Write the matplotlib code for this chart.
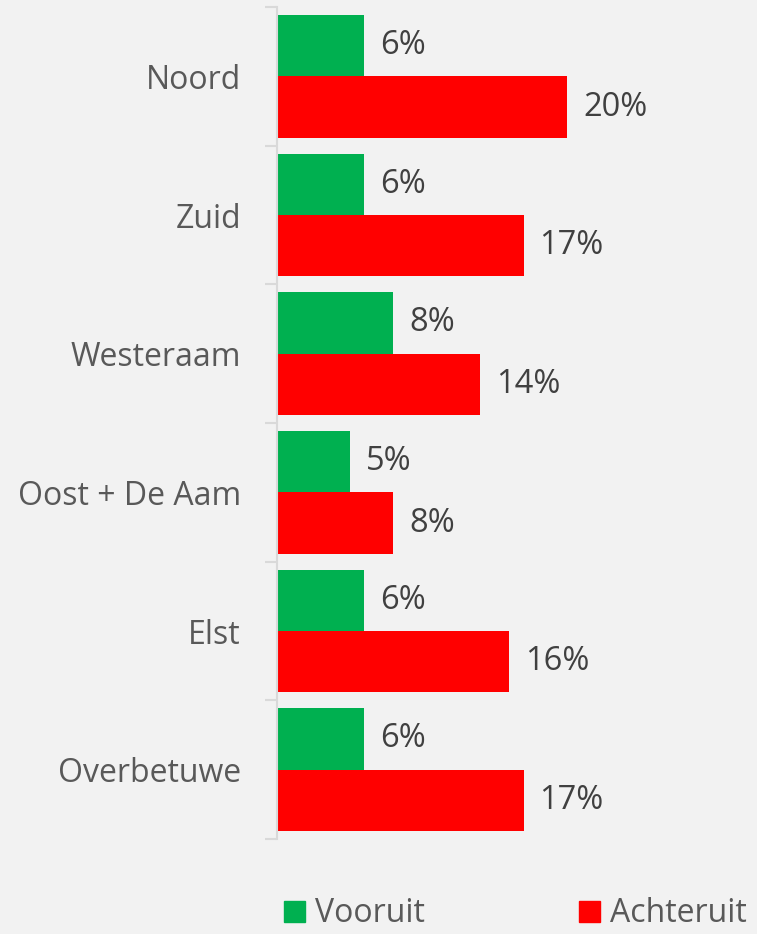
import numpy as np
import matplotlib.pyplot as plt
from matplotlib.patches import Patch

categories = ["Noord", "Zuid", "Westeraam", "Oost + De Aam", "Elst", "Overbetuwe"]
vooruit = [6, 6, 8, 5, 6, 6]
achteruit = [20, 17, 14, 8, 16, 17]

BG = '#F2F2F2'
GREEN = '#00B050'
RED = '#FF0000'

plt.rcParams['font.family'] = ['Open Sans', 'DejaVu Sans']

fig = plt.figure(figsize=(7.57, 9.34), dpi=100, facecolor=BG)
W, H = 757, 934
ax = fig.add_axes([277/W, (H-839)/H, (W-277)/W, (839-7)/H])
ax.set_facecolor(BG)

y = np.arange(len(categories))
h = 0.443
ax.barh(y - h/2, vooruit, height=h, color=GREEN, label='Vooruit')
ax.barh(y + h/2, achteruit, height=h, color=RED, label='Achteruit')

for yi, v in zip(y, vooruit):
    ax.text(v + 1.1, yi - h/2, f"{v}%", va='center', ha='left', fontsize=23.5, color='#404040')
for yi, v in zip(y, achteruit):
    ax.text(v + 1.1, yi + h/2, f"{v}%", va='center', ha='left', fontsize=23.5, color='#404040')

ax.set_xlim(0, (W-277)/14.5)
ax.set_ylim(len(categories) - 0.5, -0.5)
ax.set_yticks(np.arange(-0.5, len(categories)), minor=False)
ax.set_yticklabels([])
ax.set_yticks(y, minor=True)
ax.set_yticklabels(categories, minor=True, fontsize=23, color='#595959')
ax.tick_params(axis='y', which='major', length=8.6, color='#D9D9D9', width=1.5)
ax.tick_params(axis='y', which='minor', length=0, pad=26)
ax.set_xticks([])
for s in ['top', 'right', 'bottom']:
    ax.spines[s].set_visible(False)
ax.spines['left'].set_color('#D9D9D9')
ax.spines['left'].set_linewidth(1.5)

handles = [Patch(color=GREEN, label='Vooruit'), Patch(color=RED, label='Achteruit')]
fig.legend(handles=handles, loc='center left', bbox_to_anchor=(284/W, 1 - 914/H), ncol=2,
           frameon=False, fontsize=23, labelcolor='#595959', handlelength=0.66, handleheight=0.66,
           handletextpad=0.32, columnspacing=4.8, borderpad=0, borderaxespad=0)

fig.savefig('out.png', dpi=100, facecolor=BG)
